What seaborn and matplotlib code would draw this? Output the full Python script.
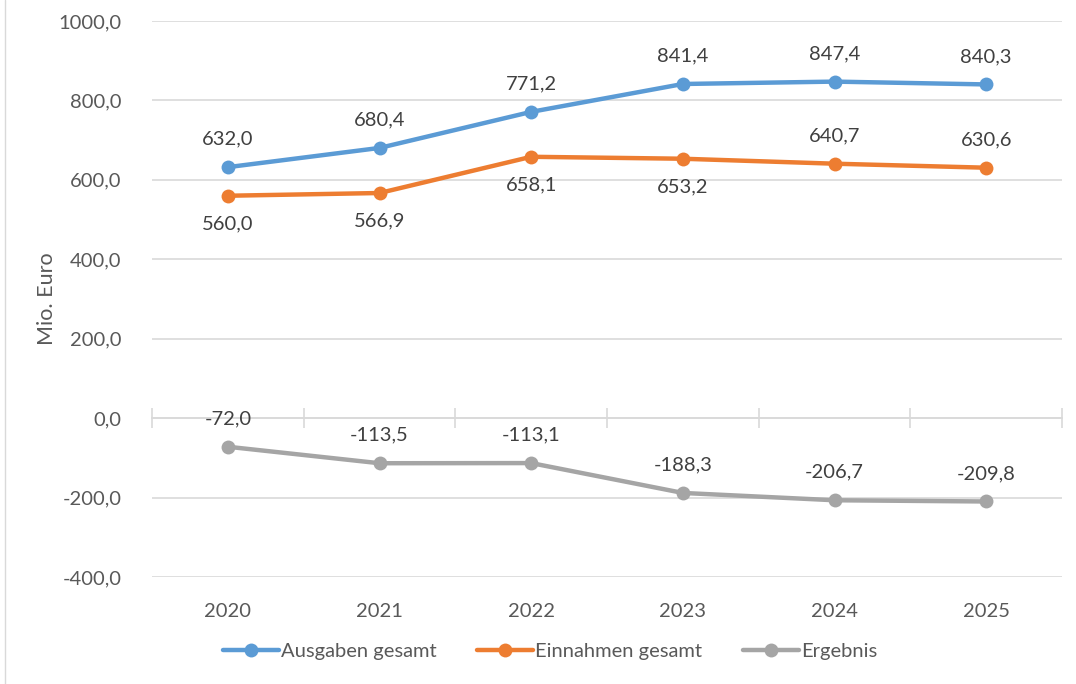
import numpy as np
import pandas as pd
import seaborn as sns
from matplotlib import pyplot as plt
from matplotlib.ticker import FuncFormatter

years = ["2020", "2021", "2022", "2023", "2024", "2025"]
ausgaben = [632.0, 680.4, 771.2, 841.4, 847.4, 840.3]
einnahmen = [560.0, 566.9, 658.1, 653.2, 640.7, 630.6]
ergebnis = [-72.0, -113.5, -113.1, -188.3, -206.7, -209.8]
series_names = ["Ausgaben gesamt", "Einnahmen gesamt", "Ergebnis"]
colors = ["#5B9BD5", "#ED7D31", "#A5A5A5"]
# label above (+1) or below (-1) each point
label_side = {
    "Ausgaben gesamt": [1, 1, 1, 1, 1, 1],
    "Einnahmen gesamt": [-1, -1, -1, -1, 1, 1],
    "Ergebnis": [1, 1, 1, 1, 1, 1],
}

def de(v):
    return f"{v:.1f}".replace(".", ",")

df = pd.DataFrame({
    "pos": list(range(len(years))) * 3,
    "value": ausgaben + einnahmen + ergebnis,
    "series": np.repeat(series_names, len(years)),
})

sns.set_style("white")
plt.rcParams["font.family"] = ["Lato", "DejaVu Sans"]
text_col = "#595959"
grid_col = "#D9D9D9"
fs = 14.5

fig = plt.figure(figsize=(10.76, 6.84), dpi=100)
ax = fig.add_axes([0.1413, 0.1564, 0.987 - 0.1413, 0.9693 - 0.1564])

sns.lineplot(data=df, x="pos", y="value", hue="series", palette=colors,
             marker="o", markersize=10, markeredgewidth=0, linewidth=3.2,
             ax=ax, legend=True)

ymin, ymax = -400, 1000
ax.set_ylim(ymin, ymax)
ax.set_xlim(-0.5, len(years) - 0.5)
ax.set_yticks(np.arange(ymin, ymax + 1, 200))
ax.yaxis.set_major_formatter(FuncFormatter(lambda v, p: de(v)))
for y in np.arange(ymin, ymax + 1, 200):
    ax.axhline(y, color=grid_col, lw=1.2, zorder=0)

ax.set_xticks(range(len(years)))
ax.set_xticklabels(years)
ax.tick_params(axis="both", length=0, labelsize=fs, colors=text_col)
ax.tick_params(axis="x", pad=19)
ax.tick_params(axis="y", pad=22)
for s in ax.spines.values():
    s.set_visible(False)

# category axis line at zero with boundary tick marks
zero_frac = (0 - ymin) / (ymax - ymin)
sec = ax.secondary_xaxis(zero_frac)
sec.set_xticks(np.arange(-0.5, len(years)))
sec.set_xticklabels([])
sec.tick_params(direction="inout", length=14, width=1.2, color=grid_col)
sec.spines["bottom"].set_color(grid_col)
sec.spines["bottom"].set_linewidth(1.2)

ax.set_xlabel("")
ax.set_ylabel("Mio. Euro", fontsize=15.5, color=text_col)
ax.yaxis.set_label_coords(-0.104, 0.5)

for name, vals in zip(series_names, [ausgaben, einnahmen, ergebnis]):
    for i, v in enumerate(vals):
        side = label_side[name][i]
        ax.annotate(de(v), (i, v), xytext=(0, 28 * side), textcoords="offset pixels",
                    ha="center", va="center", fontsize=fs, color="#404040")

handles, labels = ax.get_legend_handles_labels()
ax.legend(handles, labels, loc="center", bbox_to_anchor=(0.511, 0.048),
          bbox_transform=fig.transFigure, ncol=3, frameon=False, fontsize=fs,
          handlelength=2.8, handletextpad=0.1, columnspacing=2.0, labelcolor=text_col)

fig.add_artist(plt.Line2D([0.005, 0.005], [0, 1], color=grid_col, lw=1, transform=fig.transFigure))

plt.savefig("out.png", dpi=100)
